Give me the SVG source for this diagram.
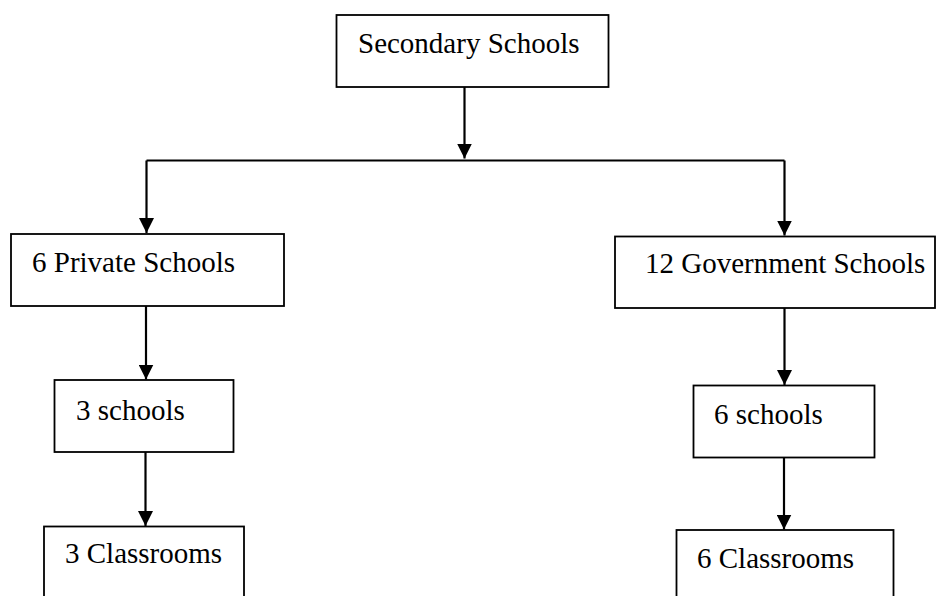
<svg xmlns="http://www.w3.org/2000/svg" width="937" height="596" viewBox="0 0 937 596">
<style>
.box{fill:#fff;stroke:#000;stroke-width:1.8}
.lbl{font-family:"Liberation Serif","Times New Roman",serif;font-size:29px;fill:#000}
.con{fill:none;stroke:#000;stroke-width:2.2}
</style>
<defs>
<marker id="ah" viewBox="0 -7.5 15 15" refX="15" refY="0" markerWidth="15" markerHeight="15" markerUnits="userSpaceOnUse" orient="auto">
<path d="M0,-7.5 L15,0 L0,7.5 z" fill="#000"/>
</marker>
</defs>
<rect width="937" height="596" fill="#fff"/>
<g id="connectors">
<path class="con" d="M464.5,87 V158.5" marker-end="url(#ah)"/>
<path class="con" d="M146.5,160.5 H784.5"/>
<path class="con" d="M146.5,160.5 V233" marker-end="url(#ah)"/>
<path class="con" d="M784.5,160.5 V235.5" marker-end="url(#ah)"/>
<path class="con" d="M146,306 V379.5" marker-end="url(#ah)"/>
<path class="con" d="M145.5,452 V526" marker-end="url(#ah)"/>
<path class="con" d="M784.5,308 V385" marker-end="url(#ah)"/>
<path class="con" d="M784,457.5 V529.5" marker-end="url(#ah)"/>
</g>
<g id="secondary">
<rect class="box" x="336.5" y="15" width="272" height="72"/>
<text class="lbl" x="358" y="53">Secondary Schools</text>
</g>
<g id="private">
<rect class="box" x="11" y="234" width="273" height="72"/>
<text class="lbl" x="32" y="272">6 Private Schools</text>
</g>
<g id="government">
<rect class="box" x="615" y="236.5" width="320" height="71.5"/>
<text class="lbl" x="645" y="273">12 Government Schools</text>
</g>
<g id="private-schools">
<rect class="box" x="54.5" y="380" width="179" height="72"/>
<text class="lbl" x="76" y="420">3 schools</text>
</g>
<g id="government-schools">
<rect class="box" x="693.5" y="385.5" width="181" height="72"/>
<text class="lbl" x="714" y="424">6 schools</text>
</g>
<g id="private-classrooms">
<rect class="box" x="44" y="526.5" width="200" height="80"/>
<text class="lbl" x="65" y="563">3 Classrooms</text>
</g>
<g id="government-classrooms">
<rect class="box" x="676.5" y="530" width="217" height="80"/>
<text class="lbl" x="697" y="568">6 Classrooms</text>
</g>
</svg>
